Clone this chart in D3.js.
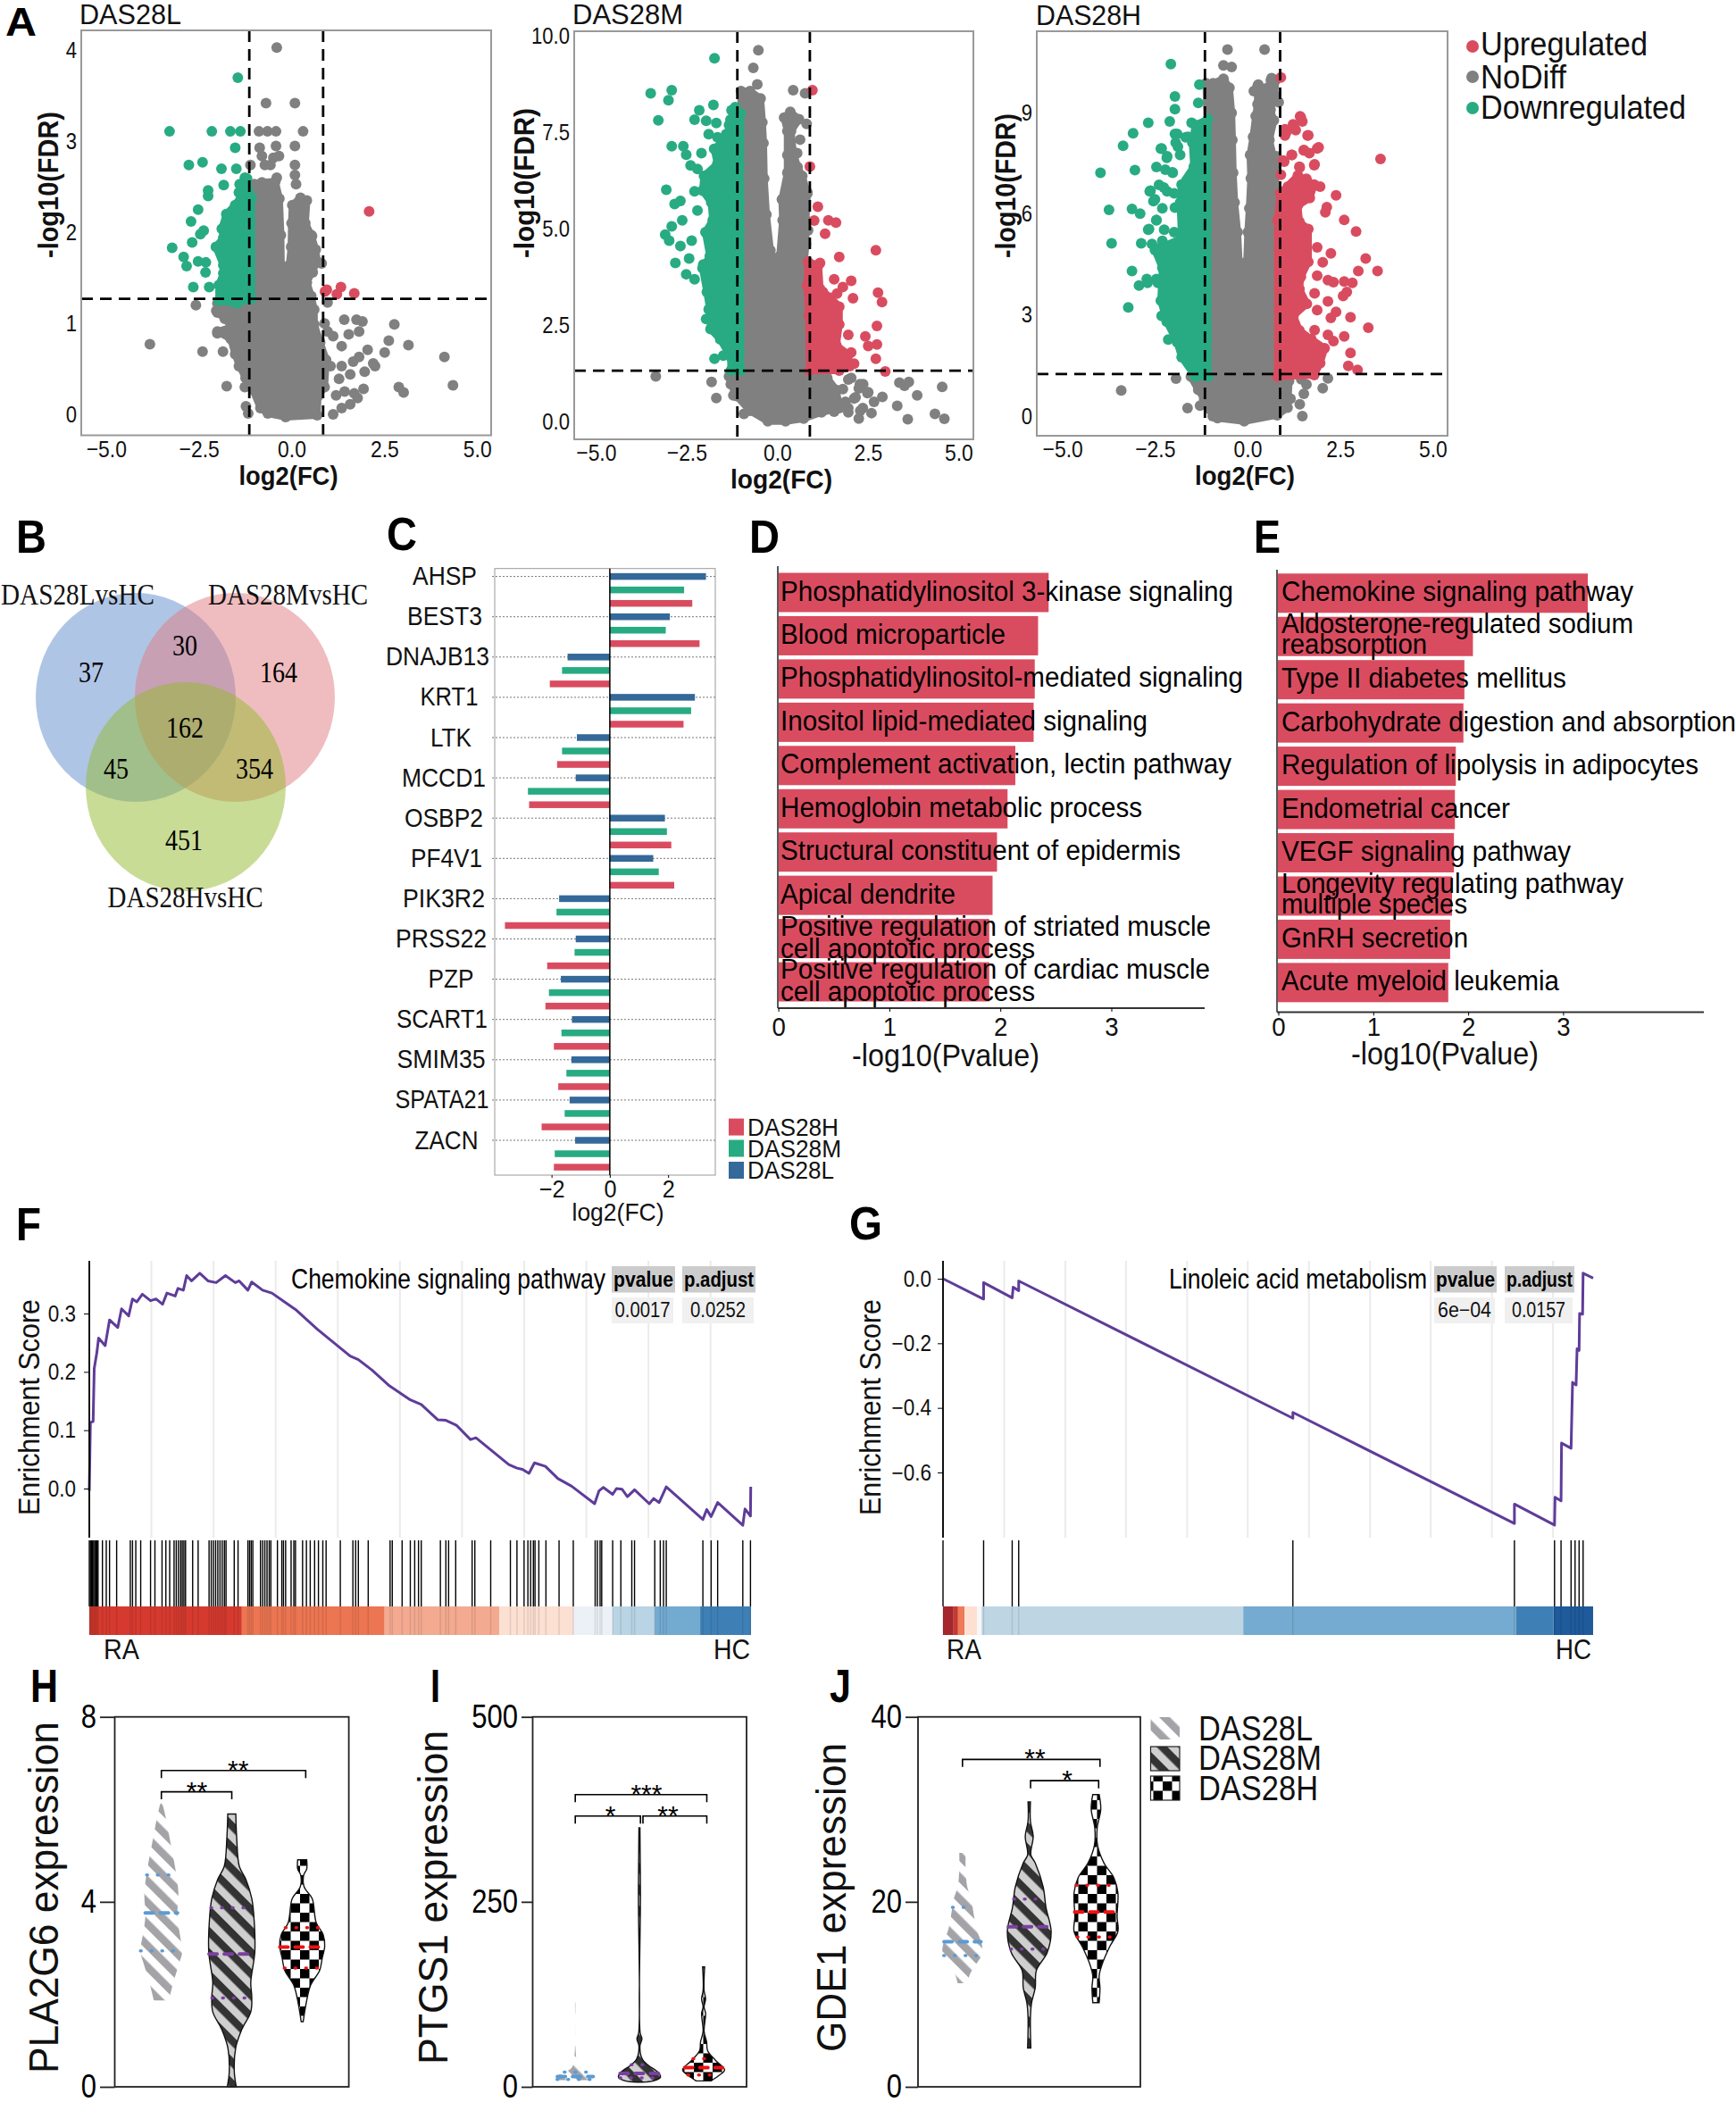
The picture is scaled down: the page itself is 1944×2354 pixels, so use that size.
<!DOCTYPE html>
<html><head><meta charset="utf-8">
<script src="https://cdn.jsdelivr.net/npm/d3@7/dist/d3.min.js"></script>
<style>html,body{margin:0;padding:0;background:#fff}svg{display:block}</style>
</head><body><svg id="fig" width="1944" height="2354" xmlns="http://www.w3.org/2000/svg"></svg>
<script>
// ---------- DATA ----------
const RED="#d94c60",GREEN="#28ab82",GRAY="#808080",BLUE="#34699a";
// Panel A: volcano outliers plus the outlines of the saturated dense clouds
const lowGrayCloud=[[-.64,.01],[-.16,-.03],[.69,-.01],[.71,.20],[.89,.30],[.93,.60],[.77,.79],[.61,.99],[.61,1.15],[.53,1.30],[.41,1.45],[.69,1.68],[.65,1.81],[.53,1.97],[.37,2.10],[.41,2.35],[.24,2.38],[.02,2.30],[0,2.10],[-.01,1.84],[-.06,1.64],[-.16,1.52],[-.28,1.64],[-.29,1.97],[-.33,2.37],[-.44,2.56],[-.80,2.55],[-1.0,2.53],[-1.04,1.27],[-2.0,1.22],[-2.0,1.12],[-1.80,1.05],[-1.60,.96],[-2.0,.91],[-1.64,.83],[-1.52,.66],[-1.40,.53],[-1.24,.40],[-1.04,.27],[-.84,.07]];
const lowGreenCloud=[[-1.20,2.59],[-1.08,2.38],[-1.08,1.27],[-1.48,1.22],[-1.96,1.25],[-1.96,1.42],[-1.84,1.55],[-1.84,1.64],[-2.04,1.84],[-1.84,1.94],[-1.88,2.04],[-1.76,2.20],[-1.52,2.30],[-1.36,2.40],[-1.40,2.53]];
const lowGrayPts=[[-.40,4.03],[-.69,3.42],[.09,3.42],[-.88,3.11],[-.65,3.11],[-.42,3.11],[.31,3.11],[-.86,2.93],[-.42,2.95],[.09,2.95],[-.8,2.84],[-.49,2.82],[-1.11,2.74],[-.72,2.74],[-.34,2.84],[-.57,2.74],[.09,2.74],[.09,2.63],[.12,2.53],[-.40,2.60],[-2.58,1.20],[-2.03,1.14],[-2.0,.89],[-3.82,.77],[-2.4,.69],[-1.85,.69],[-1.42,.53],[-1.75,.31],[-1.26,.30],[-1.23,.09],[-1.17,.01],[1.42,1.04],[1.75,1.04],[1.91,1.02],[2.77,.99],[.89,1.0],[.97,.91],[1.82,.91],[1.54,.88],[1.12,.86],[2.62,.81],[3.15,.76],[1.35,.75],[2.51,.68],[2.05,.71],[1.82,.63],[1.66,.58],[1.35,.53],[2.2,.56],[2.25,.53],[1.97,.47],[1.58,.44],[1.28,.39],[4.12,.63],[4.35,.32],[2.89,.30],[3.02,.24],[1.94,.28],[1.69,.23],[1.43,.25],[1.78,.18],[1.58,.11],[1.2,.21],[1.12,.0],[1.35,.07],[1.05,.53],[.97,1.23],[.81,1.66],[.57,1.56],[.52,1.85],[.55,1.96]];
const lowGreenPts=[[-1.45,3.70],[-3.29,3.11],[-2.15,3.11],[-1.65,3.11],[-1.38,3.11],[-1.52,2.93],[-2.77,2.74],[-2.4,2.77],[-1.89,2.70],[-1.49,2.70],[-1.26,2.60],[-1.83,2.52],[-2.25,2.46],[-2.25,2.40],[-1.42,2.44],[-2.52,2.25],[-2.71,2.12],[-2.37,2.02],[-2.46,1.98],[-2.68,1.89],[-3.22,1.83],[-2.91,1.73],[-2.83,1.63],[-2.52,1.68],[-2.31,1.67],[-2.32,1.56],[-2.65,1.40],[-2.22,1.40]];
const lowRedPts=[[2.09,2.23],[.90,1.35],[.95,1.37],[1.33,1.40],[1.22,1.32],[1.69,1.33]];

const midGrayCloud=[[-.75,.28],[-.26,.01],[.23,.01],[.73,.08],[1.22,.24],[1.71,.35],[1.63,.82],[1.38,1.13],[.97,1.28],[.83,1.36],[.83,2.90],[.74,3.36],[.73,3.98],[.79,4.60],[.79,5.22],[.83,5.91],[.69,6.37],[.56,6.60],[.44,6.99],[.38,7.53],[.60,7.84],[.36,8.03],[.19,7.88],[.28,7.53],[.28,6.91],[.28,6.45],[.13,5.76],[.15,5.22],[.07,4.29],[-.05,4.10],[-.19,4.44],[-.30,5.37],[-.36,6.30],[-.38,7.22],[-.41,7.76],[-.46,8.38],[-.75,8.57],[-1.0,8.57],[-1.0,1.36],[-1.33,1.17],[-1.28,.97],[-1.12,.66]];
const midGreenCloud=[[-1.01,7.99],[-1.01,1.32],[-1.28,1.32],[-1.28,1.67],[-1.57,2.13],[-1.84,2.40],[-1.86,2.90],[-1.94,3.36],[-2.06,3.98],[-1.86,4.29],[-1.98,4.91],[-1.78,5.22],[-1.82,5.68],[-2.06,5.99],[-2.02,6.37],[-1.65,6.68],[-1.74,7.07],[-1.37,7.38],[-1.33,7.69],[-1.16,8.15]];
const midRedCloud=[[.85,4.14],[1.14,4.06],[1.18,3.44],[1.47,3.21],[1.71,2.98],[1.71,2.52],[1.63,1.98],[1.96,1.74],[2.0,1.44],[1.71,1.32],[.89,1.32],[.87,2.75],[.82,3.52]];
const midGrayPts=[[-.52,9.63],[-.66,9.17],[-.55,8.74],[.44,8.59],[.77,8.51],[.63,7.31],[.81,7.72],[.55,6.96],[.83,5.95],[.85,4.96],[-3.35,1.17],[-1.81,1.03],[-1.68,.61],[-1.21,.68],[3.37,1.01],[3.63,1.03],[3.51,.93],[3.86,.68],[4.55,.9],[3.31,.41],[4.35,.2],[3.6,.06],[4.61,.07],[1.96,1.09],[2.28,.97],[2.51,.76],[2.12,.6],[2.36,.35],[1.96,.35],[2.67,.51],[1.81,.84],[1.57,.26],[2.9,.64],[2.6,.22],[2.04,1.13],[2.37,.97],[2.25,.86],[2.49,.74],[2.16,.63],[1.88,.51],[2.25,.08],[2.29,.28],[1.96,.24],[-.92,.2]];
const midGreenPts=[[-1.73,9.42],[-3.49,8.51],[-2.91,8.59],[-3.0,8.33],[-3.28,7.81],[-1.76,8.21],[-2.15,8.07],[-2.28,7.83],[-1.96,7.80],[-1.68,7.74],[-1.26,8.07],[-1.29,7.83],[-2.91,7.14],[-2.59,7.14],[-2.51,6.92],[-2.39,6.64],[-2.09,6.96],[-1.89,7.45],[-1.65,7.37],[-1.41,7.45],[-3.06,6.01],[-2.67,5.72],[-2.83,5.64],[-2.2,6.55],[-1.96,6.38],[-2.28,5.97],[-1.96,5.97],[-2.2,5.47],[-2.62,5.22],[-2.91,5.06],[-3.09,4.85],[-2.98,4.69],[-2.67,4.55],[-2.36,4.69],[-2.81,4.11],[-2.43,4.23],[-2.51,3.82],[-2.28,3.69],[-2.04,4.07],[-1.89,2.91],[-1.81,2.41],[-1.73,1.63],[-1.49,1.71],[-1.96,2.66]];
const midRedPts=[[.97,8.59],[.9,6.61],[1.12,5.57],[1.02,5.21],[1.41,5.22],[1.62,5.16],[1.32,4.87],[2.72,4.44],[1.71,4.27],[1.18,4.11],[1.05,3.74],[1.57,3.69],[2.04,3.65],[1.81,3.49],[1.26,3.36],[1.65,3.32],[2.09,3.2],[2.78,3.34],[2.89,3.1],[1.65,2.99],[2.75,2.48],[1.96,2.25],[2.43,2.21],[2.75,2],[2.51,1.96],[2.04,1.79],[2.72,1.63],[2.98,1.3],[2.12,1.5],[1.88,1.42],[1.49,1.83]];

const highGrayCloud=[[-.93,9.86],[-.65,9.99],[-.49,9.73],[-.43,8.98],[-.41,8.18],[-.39,7.21],[-.35,6.33],[-.27,5.45],[-.23,4.57],[-.13,3.55],[-.02,4.57],[.01,5.45],[.05,6.16],[.09,7.04],[.07,7.74],[.15,8.27],[.22,8.89],[.27,9.24],[.27,9.77],[.55,9.73],[.63,9.95],[.76,9.95],[.73,9.51],[.62,9.07],[.71,8.76],[.59,8.18],[.76,7.39],[.76,1.25],[1.12,1.04],[1.08,.25],[.80,.03],[-.09,-.15],[-.81,-.06],[-1.01,.20],[-1.17,.51],[-1.33,.78],[-1.53,1.17],[-1.09,1.25],[-1.09,8.71],[-1.12,9.86]];
const highGreenCloud=[[-1.07,8.80],[-1.07,1.17],[-1.41,1.17],[-1.78,1.75],[-1.90,2.19],[-2.18,2.80],[-2.34,3.42],[-2.30,4.39],[-2.50,4.92],[-1.78,5.27],[-1.82,6.33],[-1.78,6.86],[-1.45,7.39],[-1.49,8.10],[-1.41,8.62]];
const highRedCloud=[[.88,6.60],[1.36,7.13],[1.80,6.86],[1.68,6.46],[1.36,6.24],[1.40,5.76],[1.64,5.54],[1.64,4.57],[1.44,4.13],[1.40,3.77],[1.60,3.33],[1.24,2.98],[1.40,2.54],[1.72,2.28],[2.08,2.01],[1.96,1.57],[1.80,1.22],[.81,1.17],[.81,5.80]];
const highGrayPts=[[-.54,10.86],[.46,10.86],[-.65,10.39],[-.43,10.34],[.65,10.01],[.29,9.82],[.17,9.63],[.84,9.30],[.78,7.70],[-1.93,1.11],[-3.41,.76],[-1.62,.24],[-1.28,.31],[-.94,0],[2.17,1.12],[2.03,.83],[1.59,.94],[1.52,.66],[1.41,.35],[1.48,0],[1.16,.52],[1.45,1.09]];
const highGreenPts=[[-2.07,10.43],[-1.96,9.47],[-1.96,9.09],[-2.10,8.73],[-2.68,8.69],[-3.09,8.38],[-3.36,8.01],[-3.97,7.21],[-3.04,7.29],[-2.46,7.38],[-3.74,6.11],[-3.67,5.12],[-3.12,4.30],[-2.93,3.87],[-3.22,3.22],[-1.30,9.82],[-1.33,9.28],[-1.96,8.36],[-1.67,8.26],[-2.32,7.93],[-2.17,7.70],[-2.64,6.66],[-2.39,6.85],[-2.54,6.37],[-3.12,6.14],[-2.90,6.0],[-2.46,5.81],[-2.68,5.52],[-2.87,5.12],[-2.46,4.96],[-2.72,4.06],[-2.46,4.06],[-2.17,3.64],[-2.32,2.97],[-2.14,2.27],[-1.51,8.69],[-1.88,7.98],[-2.03,7.22],[-2.17,6.66],[-1.96,6.18],[-2.25,5.52],[-2.03,5.05],[-2.34,7.92],[-2.18,7.65],[-2.22,7.30],[-2.02,7.21],[-1.82,7.74],[-1.90,8.36],[-1.61,8.27],[-1.94,8.10],[-2.62,6.68],[-2.50,6.42],[-2.26,6.77],[-1.98,6.60],[-2.30,6.16],[-2.46,5.80],[-2.66,5.54],[-2.30,5.19],[-2.58,5.10],[-1.98,5.45],[-2.70,3.95],[-2.42,3.95]];
const highRedPts=[[.90,10.03],[1.42,8.88],[1.48,8.73],[1.23,8.64],[1.01,8.50],[1.30,8.47],[1.01,8.31],[1.62,8.31],[1.52,7.88],[1.88,7.93],[1.19,7.74],[1.67,7.79],[3.59,7.62],[.99,7.54],[1.81,7.46],[1.41,7.37],[.90,7.15],[1.59,7.03],[1.09,6.80],[1.96,6.80],[2.39,6.54],[2.14,6.19],[2.10,6.04],[2.61,5.81],[2.93,5.47],[1.88,5.00],[2.25,4.82],[3.19,4.67],[2.03,4.56],[2.99,4.30],[3.51,4.30],[1.88,4.16],[2.17,4.03],[2.61,3.99],[2.83,3.95],[2.32,3.97],[2.68,3.68],[2.58,3.56],[1.81,3.64],[2.17,3.40],[1.88,3.14],[2.39,3.09],[2.25,2.91],[2.78,2.93],[3.26,2.62],[1.81,2.55],[2.61,2.36],[2.17,2.41],[2.32,2.22],[2.78,1.87],[1.88,1.94],[2.72,1.49],[2.97,1.37],[1.74,1.46],[1.04,8.40],[1.24,8.58],[1.44,8.84],[1.64,8.32],[1.92,7.96],[1.52,7.87],[1.20,7.74],[.96,7.57],[1.40,7.39],[1.80,7.43]];

// Panel B
const vennCounts=[37,30,164,162,45,354,451];
const vennSets=["DAS28LvsHC","DAS28MvsHC","DAS28HvsHC"];
// Panel C
const genes=["AHSP","BEST3","DNAJB13","KRT1","LTK","MCCD1","OSBP2","PF4V1","PIK3R2","PRSS22","PZP","SCART1","SMIM35","SPATA21","ZACN"];
const fcLow=[3.30,2.06,-1.45,2.92,-1.13,-1.17,1.89,1.49,-1.74,-1.17,-1.68,-1.30,-1.32,-1.38,-1.19];
const fcMid=[2.55,1.92,-1.64,2.79,-1.64,-2.81,1.96,1.68,-1.83,-1.21,-2.09,-1.66,-1.49,-1.55,-1.89];
const fcHigh=[2.83,3.08,-2.06,2.53,-1.81,-2.77,2.11,2.21,-3.60,-2.15,-2.21,-1.92,-1.77,-2.34,-1.92];
// Panel D / E
const goTerms=[["Phosphatidylinositol 3-kinase signaling"],["Blood microparticle"],["Phosphatidylinositol-mediated signaling"],["Inositol lipid-mediated signaling"],["Complement activation, lectin pathway"],["Hemoglobin metabolic process"],["Structural constituent of epidermis"],["Apical dendrite"],["Positive regulation of striated muscle","cell apoptotic process"],["Positive regulation of cardiac muscle","cell apoptotic process"]];
const goValues=[2.435,2.34,2.31,2.30,2.135,2.065,1.97,1.93,1.90,1.90];
const keggTerms=[["Chemokine signaling pathway"],["Aldosterone-regulated sodium","reabsorption"],["Type II diabetes mellitus"],["Carbohydrate digestion and absorption"],["Regulation of lipolysis in adipocytes"],["Endometrial cancer"],["VEGF signaling pathway"],["Longevity regulating pathway","multiple species"],["GnRH secretion"],["Acute myeloid leukemia"]];
const keggValues=[3.26,2.05,1.96,1.95,1.87,1.86,1.85,1.83,1.81,1.79];
// Panel F: [rank position, running enrichment score]
const chemoCurve=[[0,-.004],[2,.113],[7,.115],[9,.206],[14,.234],[17,.258],[29,.245],[37,.289],[52,.276],[59,.308],[72,.296],[79,.325],[87,.320],[97,.333],[112,.322],[122,.325],[134,.316],[142,.335],[157,.330],[162,.343],[172,.340],[178,.365],[187,.356],[202,.369],[217,.356],[232,.353],[249,.365],[267,.353],[274,.356],[290,.340],[297,.354],[317,.340],[334,.335],[357,.320],[377,.307],[417,.273],[447,.250],[477,.227],[492,.221],[517,.203],[549,.176],[587,.152],[607,.144],[637,.118],[652,.117],[672,.108],[697,.084],[707,.087],[737,.064],[767,.041],[782,.035],[792,.033],[804,.026],[814,.044],[834,.038],[857,.017],[882,.004],[924,-.026],[932,-.004],[940,.002],[957,-.010],[964,0],[974,-.001],[984,-.014],[997,-.002],[1024,-.026],[1032,-.017],[1042,-.024],[1055,.003],[1122,-.053],[1129,-.036],[1137,-.048],[1149,-.024],[1195,-.063],[1199,-.035],[1209,-.047],[1209.5,.003]];
const chemoHits=[0,2,4,6,8,10,12,14,16,24,31,37,50,75,79,85,94,112,120,133,140,147,155,159,163,167,170,173,176,189,199,219,223,227,231,235,239,243,247,250,265,272,290,293,296,299,313,317,321,325,329,332,344,352,355,359,369,374,377,390,397,404,412,419,427,433,459,482,487,492,510,550,554,572,587,595,602,607,642,652,657,670,700,705,734,770,782,795,802,807,812,815,822,835,859,885,925,929,934,937,957,972,992,997,1034,1044,1050,1055,1122,1137,1149,1195,1209];
const chemoStrip=[[0,279,"#d63a2f"],[279,540,"#ec7552"],[540,750,"#f3aa91"],[750,885,"#fce0d2"],[885,957,"#ecf1f8"],[957,1034,"#b9d4e4"],[1034,1117,"#73aad0"],[1117,1210,"#3e80b6"]];
const gridRanksF=[113.6,227.2,340.8,454.4,568,681.6,795.2,908.8,1022.4,1136];
// Panel G
const linoCurve=[[0,0],[81,-.063],[81,-.012],[138,-.059],[140,-.026],[151,-.037],[151,-.007],[698,-.432],[698,-.414],[1140,-.758],[1140,-.698],[1220,-.763],[1221,-.677],[1233,-.688],[1234,-.509],[1253,-.525],[1256,-.321],[1263,-.329],[1265,-.217],[1269,-.222],[1270,-.108],[1276,-.110],[1277,.017],[1297,.002]];
const linoHits=[0,81,138,151,698,1140,1220,1233,1253,1261,1269,1277];
const linoStrip=[[0,21,"#a5262c"],[21,30,"#c63a32"],[30,43,"#ee7a58"],[43,68,"#fde0d2"],[68,77,"#f7f7f7"],[77,599,"#bed6e4"],[599,1143,"#75abd0"],[1143,1218,"#3e80b6"],[1218,1297,"#1f5a9b"]];
const gridRanksG=[122,244,365,487,608,730,852,973,1095,1217];
// Panels H-J: [expression value, density], per group
const groups=["DAS28L","DAS28M","DAS28H"];
const plaLow=[[6.13,2],[5.86,8],[5.35,17],[4.71,28],[4.19,34],[3.68,32],[3.23,38],[2.94,42],[2.65,35],[2.26,24],[1.87,15]];
const plaMid=[[5.90,8],[5.35,10],[4.77,15],[4.49,28],[4.07,40],[3.55,45],[2.91,46],[2.26,38],[1.94,40],[1.62,38],[1.24,20],[.85,8],[.33,5],[0,9]];
const plaHigh=[[4.91,9],[4.71,9],[4.58,3],[4.32,4],[4.07,20],[3.55,28],[3.29,42],[3.04,45],[2.78,40],[2.52,35],[2.20,17],[1.81,8],[1.41,2]];
const plaQuart=[[4.58,3.76,2.94],[3.87,2.87,1.92],[3.44,3.02,2.57]];
const ptgLow=[[117,.6],[39,2],[25,8],[19,25],[13,38],[9,36]];
const ptgMid=[[350,1],[260,2],[73,1.5],[65,5],[55,1],[37,6],[29,18],[19,38],[13,42],[8,28],[6.4,5]];
const ptgHigh=[[162,2],[130,1],[119,4],[108,1],[99,4],[75,1],[61,6],[49,8],[35,25],[23,42],[15,30],[8,15]];
const ptgQuart=[[20,14,10],[30,18,12],[38,26,16]];
const gdeLow=[[25.3,8],[23.5,8],[21.6,12],[20.3,22],[18.7,28],[17.1,35],[15.5,48],[14.4,50],[13.3,35],[12.3,20],[11.2,12]];
const gdeMid=[[30.8,3],[28.7,3],[27.1,10],[25.1,4],[24.2,15],[21.6,35],[19.4,42],[16.8,55],[14.5,45],[12.6,18],[10.7,15],[9.1,6],[7.5,3],[4.2,4]];
const gdeHigh=[[31.6,8],[30,12],[28,3],[26.1,4],[24.2,20],[22.6,45],[21,55],[18.4,53],[16.8,55],[15.2,35],[13.2,15],[12,8],[10.7,10],[9.1,8]];
const gdeQuart=[[19.4,15.7,14.2],[20.3,17.3,14.9],[21.8,18.9,16.2]];
// brackets: [group from, group to, value, stars, star position]
const plaBrackets=[[0,2.05,6.84,"**",1.09],[0,1,6.38,"**",.505]];
const ptgBrackets=[[0,2.05,395,"***",1.11],[0,1.016,366,"*",.547],[1.055,2.05,366,"**",1.445]];
const gdeBrackets=[[0,2.06,35.4,"**",1.087],[1.02,2.04,33.1,"*",1.57]];

// ---------- HELPERS ----------
const SANS="'Liberation Sans',Arial,sans-serif",SERIF="'Liberation Serif',serif";
const svg=d3.select("#fig");
svg.append("rect").attr("width",1944).attr("height",2354).attr("fill","#fff");
function txt(x,y,s,o={}){
  const t=svg.append("text").attr("x",x).attr("y",y).attr("font-size",o.size||26).attr("font-family",o.font||SANS)
    .attr("dominant-baseline",o.base||"central").attr("text-anchor",o.anchor||"start").attr("fill",o.fill||"#111").text(s);
  if(o.weight)t.attr("font-weight",o.weight);
  if(o.w)t.attr("textLength",o.w).attr("lengthAdjust","spacingAndGlyphs");
  if(o.rot)t.attr("transform",`rotate(${o.rot},${x},${y})`);
  return t;
}
function squeeze(sel,k){sel.selectAll("text").each(function(){const n=this.getComputedTextLength();d3.select(this).attr("textLength",n*k).attr("lengthAdjust","spacingAndGlyphs");});}
function styleAxis(g,size,color){g.attr("font-family",SANS).attr("font-size",size);g.selectAll("text").attr("fill",color||"#111");}

const defs=svg.append("defs");
function stripe(id,bg,fg){const p=defs.append("pattern").attr("id",id).attr("patternUnits","userSpaceOnUse").attr("width",17).attr("height",17).attr("patternTransform","rotate(-45)");
  p.append("rect").attr("width",17).attr("height",17).attr("fill",bg);p.append("rect").attr("width",8.5).attr("height",17).attr("fill",fg);}
stripe("pL","#ffffff","#a3a3a8");stripe("pM","#333333","#cfcfcf");
{const p=defs.append("pattern").attr("id","pH").attr("patternUnits","userSpaceOnUse").attr("width",21).attr("height",21);
 p.append("rect").attr("width",21).attr("height",21).attr("fill","#fff");
 p.append("rect").attr("width",10.5).attr("height",10.5).attr("fill","#000");
 p.append("rect").attr("x",10.5).attr("y",10.5).attr("width",10.5).attr("height",10.5).attr("fill","#000");}

// panel letters
[["A",6,24,35,45],["B",18,601,34,52],["C",433,598,34,52],["D",839,601,34,52],["E",1404,601,30,52],["F",18,1371,28,52],["G",951,1370,37,52],["H",34,1888,31,52],["I",482,1888,11,52],["J",929,1888,24,52]]
 .forEach(([s,x,y,w,size])=>txt(x,y,s,{size,weight:"bold",w,fill:"#000"}));

// ---------- A ----------
function volcano(c){
  const x=d3.scaleLinear(c.xd,[c.l,c.r]),y=d3.scaleLinear(c.yd,[c.b,c.t]);
  const g=svg.append("g");
  const line=d3.line().x(d=>x(d[0])).y(d=>y(d[1])).curve(d3.curveLinearClosed);
  const dots=(pts,col)=>g.append("g").selectAll("circle").data(pts).join("circle").attr("cx",d=>x(d[0])).attr("cy",d=>y(d[1])).attr("r",6).attr("fill",col);
  const poly=(pts,col)=>{g.append("path").attr("d",line(pts)).attr("fill",col).attr("stroke",col).attr("stroke-width",8).attr("stroke-linejoin","round");dots(pts,col);};
  poly(c.grayC,GRAY);dots(c.gray,GRAY);dots(c.green,GREEN);dots(c.red,RED);poly(c.greenC,GREEN);if(c.redC)poly(c.redC,RED);
  const dash=(x1,y1,x2,y2)=>g.append("line").attr("x1",x1).attr("y1",y1).attr("x2",x2).attr("y2",y2).attr("stroke","#000").attr("stroke-width",2.8).attr("stroke-dasharray","13 8");
  dash(x(c.v[0]),c.t,x(c.v[0]),c.b);dash(x(c.v[1]),c.t,x(c.v[1]),c.b);dash(c.l,y(c.h),c.r,y(c.h));
  g.append("rect").attr("x",c.l).attr("y",c.t).attr("width",c.r-c.l).attr("height",c.b-c.t).attr("fill","none").attr("stroke","#999").attr("stroke-width",2);
  const ax=svg.append("g").attr("transform",`translate(0,${c.b})`).call(d3.axisBottom(x).tickValues([-5,-2.5,0,2.5,5]).tickFormat(d3.format(".1f")).tickSize(0).tickPadding(6));
  ax.select(".domain").remove();styleAxis(ax,26);squeeze(ax,.88);
  const ay=svg.append("g").attr("transform",`translate(${c.l},0)`).call(d3.axisLeft(y).tickValues(c.yt).tickFormat(c.yf).tickSize(0).tickPadding(5));
  ay.select(".domain").remove();styleAxis(ay,26);squeeze(ay,.85);
  txt(c.title[1],c.title[2],c.title[0],{size:32,w:c.title[3],fill:"#111"});
  txt(c.xl[0],c.xl[1],"log2(FC)",{size:30,weight:"bold",anchor:"middle",w:c.xl[2]});
  txt(c.yl[0],c.yl[1],"-log10(FDR)",{size:31,weight:"bold",anchor:"middle",rot:-90,w:c.yl[2]});
}
volcano({l:91,r:550,t:34,b:487.5,xd:[-5.67,5.38],yd:[-.23,4.22],v:[-1.14,.85],h:1.27,yt:[0,1,2,3,4],yf:d3.format("d"),
 grayC:lowGrayCloud,greenC:lowGreenCloud,gray:lowGrayPts,green:lowGreenPts,red:lowRedPts,
 title:["DAS28L",89,16,114],xl:[323,532,111],yl:[54,207,164]});
volcano({l:643,r:1090,t:35,b:492,xd:[-5.6,5.41],yd:[-.46,10.12],v:[-1.1,.9],h:1.32,yt:[0,2.5,5,7.5,10],yf:d3.format(".1f"),
 grayC:midGrayCloud,greenC:midGreenCloud,redC:midRedCloud,gray:midGrayPts,green:midGreenPts,red:midRedPts,
 title:["DAS28M",641,16,124],xl:[875,536,114],yl:[587,205,168]});
volcano({l:1161,r:1621,t:35,b:488,xd:[-5.69,5.4],yd:[-.58,11.4],v:[-1.15,.88],h:1.25,yt:[0,3,6,9],yf:d3.format("d"),
 grayC:highGrayCloud,greenC:highGreenCloud,redC:highRedCloud,gray:highGrayPts,green:highGreenPts,red:highRedPts,
 title:["DAS28H",1160,17,118],xl:[1394,532,112],yl:[1126,208,162]});
[["Upregulated",RED,52,49,187],["NoDiff",GRAY,86,86,96],["Downregulated",GREEN,121,120,230]].forEach(([s,c,yd,yt,w])=>{
  svg.append("circle").attr("cx",1649).attr("cy",yd).attr("r",7).attr("fill",c);
  txt(1658,yt,s,{size:37,w});
});

// ---------- B ----------
[[152,781,"#5f8bcd"],[263,781,"#e07c80"],[208,881,"#93ba2e"]].forEach(([cx,cy,f])=>
  svg.append("ellipse").attr("cx",cx).attr("cy",cy).attr("rx",112).attr("ry",117).attr("fill",f).attr("fill-opacity",.5));
[[102,752.6],[207,723],[312,752.6],[207,815],[130,861],[285,861],[206,940.6]].forEach(([x,y],i)=>
  txt(x,y,vennCounts[i],{size:33,font:SERIF,anchor:"middle",fill:"#000",w:String(vennCounts[i]).length*14}));
txt(1,666,vennSets[0],{size:33,font:SERIF,w:172});
txt(233,666,vennSets[1],{size:33,font:SERIF,w:179});
txt(120.6,1005,vennSets[2],{size:33,font:SERIF,w:174});

// ---------- C ----------
{
 const x=d3.scaleLinear([-3.95,3.62],[554,801]);
 const y=d3.scaleLinear([0,14],[645.6,1277]);
 const step=15.05,h=7.5;
 svg.append("rect").attr("x",554).attr("y",636.7).attr("width",247).attr("height",679.3).attr("fill","none").attr("stroke","#999").attr("stroke-width",1);
 svg.append("g").selectAll("line").data(genes).join("line").attr("x1",551).attr("x2",801).attr("y1",(d,i)=>y(i)).attr("y2",(d,i)=>y(i)).attr("stroke","#777").attr("stroke-width",1).attr("stroke-dasharray","2 2");
 [[fcLow,BLUE,0],[fcMid,GREEN,1],[fcHigh,RED,2]].forEach(([arr,c,k])=>
   svg.append("g").selectAll("rect").data(arr).join("rect").attr("x",d=>Math.min(x(0),x(d))).attr("width",d=>Math.abs(x(d)-x(0))).attr("y",(d,i)=>y(i)+k*step-h/2).attr("height",h).attr("fill",c));
 svg.append("line").attr("x1",x(0)).attr("x2",x(0)).attr("y1",636.7).attr("y2",1316).attr("stroke","#000").attr("stroke-width",1.5);
 const geneX=[498,498,490,503,505,497,497,500,497,494,505,495,494,495,500],geneW=[72,84,116,65,46,94,88,80,92,102,51,102,99,105,71];
 genes.forEach((g,i)=>txt(geneX[i],y(i)-1,g,{size:30,anchor:"middle",w:geneW[i]}));
 const ax=svg.append("g").attr("transform","translate(0,1316)").call(d3.axisBottom(x).tickValues([-2,0,2]).tickSize(3).tickPadding(2));
 ax.select(".domain").remove();styleAxis(ax,28);squeeze(ax,.9);
 txt(692,1357,"log2(FC)",{size:28,anchor:"middle",w:103});
 [["DAS28H",RED,1252.6,102],["DAS28M",GREEN,1276.5,105],["DAS28L",BLUE,1301,97]].forEach(([s,c,yy,w])=>{
   svg.append("rect").attr("x",816).attr("y",yy).attr("width",17).attr("height",19).attr("fill",c);
   txt(837,yy+9.5,s,{size:28,w});
 });
}

// ---------- D / E ----------
function enrich(c){
 const x=d3.scaleLinear([0,c.dmax],[c.x0,c.x0+c.dmax*c.u]);
 const y=d3.scaleLinear([0,9],[c.top,c.top+9*48.45]);
 svg.append("g").selectAll("rect").data(c.vals).join("rect").attr("x",c.axisX+1).attr("y",(d,i)=>y(i)).attr("width",d=>x(d)-c.axisX-1).attr("height",44).attr("fill",RED);
 svg.append("line").attr("x1",c.axisX).attr("x2",c.axisX).attr("y1",c.axT).attr("y2",c.axB).attr("stroke","#222").attr("stroke-width",1.5);
 svg.append("line").attr("x1",c.axisX).attr("x2",c.axEnd).attr("y1",c.axB).attr("y2",c.axB).attr("stroke","#333").attr("stroke-width",2);
 const ax=svg.append("g").attr("transform",`translate(0,${c.axB})`).call(d3.axisBottom(x).tickValues([0,1,2,3]).tickFormat(d3.format("d")).tickSize(4).tickPadding(c.pad));
 ax.select(".domain").remove();styleAxis(ax,30);squeeze(ax,.92);
 c.terms.forEach((t,i)=>{
   const cy=y(i)+22;
   if(t.length==1)txt(c.tx,cy-1.5,t[0],{size:31,w:c.w[i][0],fill:"#000"});
   else{txt(c.tx,cy+c.two[0],t[0],{size:31,w:c.w[i][0],fill:"#000"});txt(c.tx,cy+c.two[1],t[1],{size:31,w:c.w[i][1],fill:"#000"});}
 });
 txt(c.xl[0],c.xl[1],"-log10(Pvalue)",{size:35,anchor:"middle",w:210});
}
enrich({x0:871.6,u:124.3,dmax:3,axisX:871,axT:634,axB:1129,axEnd:1349,top:641.5,vals:goValues,terms:goTerms,tx:874,pad:6,two:[-14,11],
 w:[[507],[252],[518],[411],[505],[405],[448],[196],[482,285],[481,285]],xl:[1059,1181]});
enrich({x0:1431.5,u:106.3,dmax:3,axisX:1430,axT:638,axB:1133.4,axEnd:1908,top:642.3,vals:keggValues,terms:keggTerms,tx:1435,pad:1,two:[-14,9],
 w:[[394],[394,163],[319],[509],[467],[256],[324],[383,208],[209],[311]],xl:[1618,1179]});

// ---------- F / G ----------
function gsea(c){
 const x=d3.scaleLinear([0,c.dmax],[c.l,c.r]);
 const y=d3.scaleLinear(c.yd,[c.y0,c.y1]);
 svg.append("g").selectAll("line").data(c.grid).join("line").attr("x1",d=>x(d)).attr("x2",d=>x(d)).attr("y1",1412).attr("y2",1722).attr("stroke","#ebebeb").attr("stroke-width",2);
 svg.append("path").attr("d",d3.line().x(d=>x(d[0])).y(d=>y(d[1]))(c.curve)).attr("fill","none").attr("stroke","#5e3c99").attr("stroke-width",3).attr("stroke-linejoin","round");
 svg.append("line").attr("x1",c.l).attr("x2",c.l).attr("y1",1412).attr("y2",1722).attr("stroke","#111").attr("stroke-width",2);
 const ay=svg.append("g").attr("transform",`translate(${c.l},0)`).call(d3.axisLeft(y).tickValues(c.yt).tickFormat(d3.format(".1f")).tickSize(6).tickPadding(c.pad));
 ay.select(".domain").remove();styleAxis(ay,25);squeeze(ay,.9);
 svg.append("g").selectAll("rect").data(c.strip).join("rect").attr("x",d=>x(d[0])).attr("width",d=>x(d[1])-x(d[0])).attr("y",1799).attr("height",32).attr("fill",d=>d[2]);
 const hits=svg.append("g").selectAll("g").data(c.hits).join("g");
 hits.append("line").attr("x1",d=>x(d)).attr("x2",d=>x(d)).attr("y1",1725).attr("y2",1799).attr("stroke","#000").attr("stroke-width",1.4);
 hits.append("line").attr("x1",d=>x(d)).attr("x2",d=>x(d)).attr("y1",1799).attr("y2",1831).attr("stroke","#000").attr("stroke-opacity",.1).attr("stroke-width",1.5);
 txt(c.yl,1576,"Enrichment Score",{size:34,anchor:"middle",rot:-90,w:242});
 txt(c.title[1],1432,c.title[0],{size:31,w:c.title[2],fill:"#000"});
 [[c.b1,"pvalue",c.v1],[c.b2,"p.adjust",c.v2]].forEach(([b,h,v])=>{
   svg.append("rect").attr("x",b[0]).attr("y",1418).attr("width",b[1]-b[0]).attr("height",29.5).attr("fill","#cccccc");
   svg.append("rect").attr("x",b[0]).attr("y",1453).attr("width",b[1]-b[0]-2).attr("height",29).attr("fill","#f0f0f0");
   txt((b[0]+b[1])/2,1432.5,h,{size:24,weight:"bold",anchor:"middle",w:b[1]-b[0]-4,fill:"#000"});
   txt((b[0]+b[1])/2-1,1467,v,{size:23,anchor:"middle",w:c.vw,fill:"#111"});
 });
 txt(c.ra[0],1847,"RA",{size:31,w:c.ra[1]});
 txt(c.hc[0],1847,"HC",{size:31,w:c.hc[1]});
}
gsea({l:100,r:841,dmax:1210,yd:[0,.3],y0:1667,y1:1471,yt:[0,.1,.2,.3],pad:9,grid:gridRanksF,curve:chemoCurve,hits:chemoHits,strip:chemoStrip,yl:32,
 title:["Chemokine signaling pathway",326,352],b1:[685,756],b2:[764,846],v1:"0.0017",v2:"0.0252",vw:62,ra:[116,40],hc:[799,41]});
gsea({l:1056,r:1784,dmax:1297,yd:[0,-.6],y0:1432,y1:1649,yt:[0,-.2,-.4,-.6],pad:7,grid:gridRanksG,curve:linoCurve,hits:linoHits,strip:linoStrip,yl:974,
 title:["Linoleic acid metabolism",1309,289],b1:[1606,1676],b2:[1685,1763],v1:"6e\u221204",v2:"0.0157",vw:60,ra:[1060,39],hc:[1742,40]});

// ---------- H / I / J ----------
function violinPanel(c){
 const x=d3.scaleLinear([0,2],c.gx);
 const y=d3.scaleLinear(c.yd,[2337,1922.7]);
 const dens=d3.scaleLinear([0,100],[0,c.dk]);
 const fills=["url(#pL)","url(#pM)","url(#pH)"],qc=["#5b9bd5","#7b3fa0","#ee1111"];
 const halfAt=(arr,v)=>{for(let i=1;i<arr.length;i++)if(v>=arr[i][0]&&v<=arr[i-1][0]){const t=(v-arr[i][0])/(arr[i-1][0]-arr[i][0]);return arr[i][1]+t*(arr[i-1][1]-arr[i][1]);}return 0;};
 c.v.forEach((arr,i)=>{
   const a=d3.area().y(d=>y(d[0])).x0(d=>x(i)-dens(d[1])).x1(d=>x(i)+dens(d[1])).curve(d3.curveCatmullRom);
   const p=svg.append("path").attr("d",a(arr)+"Z").attr("fill",fills[i]);
   if(i>0)p.attr("stroke","#111").attr("stroke-width",1.4);
   c.q[i].forEach((v,k)=>{
     const w=dens(halfAt(arr,v));
     svg.append("line").attr("x1",x(i)-w).attr("x2",x(i)+w).attr("y1",y(v)).attr("y2",y(v)).attr("stroke",qc[i]).attr("stroke-width",k==1?4:3.5).attr("stroke-linecap","round").attr("stroke-dasharray",k==1?"9 8":"1 11");
   });
 });
 svg.append("rect").attr("x",c.l).attr("y",1922.7).attr("width",c.r-c.l).attr("height",414.3).attr("fill","none").attr("stroke","#222").attr("stroke-width",1.8);
 const ay=svg.append("g").attr("transform",`translate(${c.l},0)`).call(d3.axisLeft(y).tickValues(c.yt).tickFormat(d3.format("d")).tickSize(c.tick).tickPadding(4));
 ay.select(".domain").remove();ay.selectAll("line").attr("stroke","#222").attr("stroke-width",1.8);styleAxis(ay,36,"#000");squeeze(ay,.86);
 txt(c.yl[0],c.yl[1],c.label,{size:47,anchor:"middle",rot:-90,w:c.yl[2],fill:"#111"});
 c.br.forEach(([a,b,v,st,sx])=>{
   const yy=y(v);
   svg.append("path").attr("d",`M${x(a)},${yy+8.5}V${yy}H${x(b)}V${yy+8.5}`).attr("fill","none").attr("stroke","#000").attr("stroke-width",1.6);
   txt(x(sx),yy+9,st,{size:30,anchor:"middle",base:"auto",fill:"#000"});
 });
}
violinPanel({l:128.5,r:390.6,gx:[180.7,338.4],yd:[0,8],yt:[0,4,8],dk:56,tick:16.5,v:[plaLow,plaMid,plaHigh],q:plaQuart,br:plaBrackets,label:"PLA2G6 expression",yl:[48,2125,394]});
violinPanel({l:596.5,r:836,gx:[644.2,787.9],yd:[0,500],yt:[0,250,500],dk:56,tick:12.5,v:[ptgLow,ptgMid,ptgHigh],q:ptgQuart,br:ptgBrackets,label:"PTGS1 expression",yl:[484,2125,374]});
violinPanel({l:1028,r:1277,gx:[1077.8,1227.3],yd:[0,40],yt:[0,20,40],dk:44.6,tick:14,v:[gdeLow,gdeMid,gdeHigh],q:gdeQuart,br:gdeBrackets,label:"GDE1 expression",yl:[930,2125,346]});
[[groups[0],"url(#pL)",1923,25,1936,128],[groups[1],"url(#pM)",1956,27,1969,138],[groups[2],"url(#pH)",1989,27,2003,134]].forEach(([s,f,yy,h,ty,w],i)=>{
  const r=svg.append("rect").attr("x",1288.5).attr("y",yy).attr("width",32.5).attr("height",h).attr("fill",f);
  if(i>0)r.attr("stroke","#222").attr("stroke-width",1.2);
  txt(1342,ty,s,{size:38,w});
});
</script></body></html>
